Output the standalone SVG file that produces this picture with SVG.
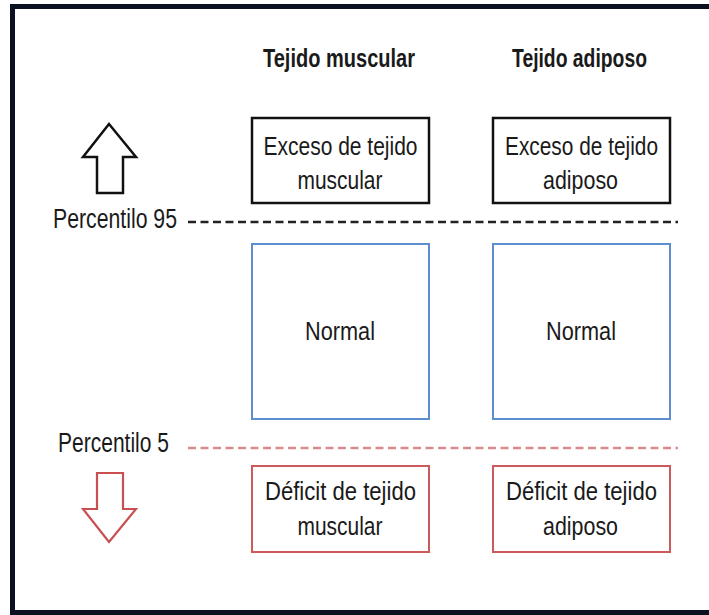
<svg xmlns="http://www.w3.org/2000/svg" width="709" height="615" viewBox="0 0 709 615">
<style>
text{font-family:"Liberation Sans",Arial,sans-serif;fill:#1a1a1a;}
.t{font-size:26px;font-weight:bold;}
.p{font-size:27px;}
.b{font-size:26px;text-anchor:middle;}
.kb{fill:#fff;stroke:#111;stroke-width:2.5;}
.nb{fill:#fff;stroke:#5b8fd0;stroke-width:2;}
.rb{fill:#fff;stroke:#cc5a5a;stroke-width:2;}
</style>
<rect x="0" y="0" width="709" height="615" fill="#fff"/>
<rect x="12.5" y="6.5" width="720" height="606" fill="#fff" stroke="#0b1120" stroke-width="5"/>
<g id="headers">
<text class="t" x="263" y="67" textLength="152" lengthAdjust="spacingAndGlyphs">Tejido muscular</text>
<text class="t" x="512" y="67" textLength="135" lengthAdjust="spacingAndGlyphs">Tejido adiposo</text>
</g>
<g id="connectors">
<line x1="188" y1="222" x2="678" y2="222" stroke="#222" stroke-width="2.5" stroke-dasharray="8,4.5"/>
<line x1="188" y1="448" x2="678" y2="448" stroke="#d98a8a" stroke-width="2.5" stroke-dasharray="8,4.5"/>
</g>
<g id="arrow-up">
<polygon points="109,124 136,157 123,157 123,193 97,193 97,157 83,157" fill="#fff" stroke="#111" stroke-width="2.5" stroke-linejoin="miter"/>
</g>
<g id="arrow-down">
<polygon points="97,473 123,473 123,509 136,509 109,542 83,509 97,509" fill="#fff" stroke="#c85050" stroke-width="2.2"/>
</g>
<g id="p95"><text class="p" x="53" y="228" textLength="124" lengthAdjust="spacingAndGlyphs">Percentilo 95</text></g>
<g id="p5"><text class="p" x="58" y="452" textLength="111" lengthAdjust="spacingAndGlyphs">Percentilo 5</text></g>
<g id="exceso-muscular">
<rect class="kb" x="252" y="118" width="177" height="85"/>
<text class="b" x="340.5" y="155" textLength="154" lengthAdjust="spacingAndGlyphs">Exceso de tejido</text>
<text class="b" x="340" y="189" textLength="85" lengthAdjust="spacingAndGlyphs">muscular</text>
</g>
<g id="exceso-adiposo">
<rect class="kb" x="493" y="118" width="177" height="85"/>
<text class="b" x="581.5" y="155" textLength="153" lengthAdjust="spacingAndGlyphs">Exceso de tejido</text>
<text class="b" x="580.5" y="189" textLength="75" lengthAdjust="spacingAndGlyphs">adiposo</text>
</g>
<g id="normal-muscular">
<rect class="nb" x="252" y="244" width="177" height="175"/>
<text class="b" x="340" y="340" textLength="70" lengthAdjust="spacingAndGlyphs">Normal</text>
</g>
<g id="normal-adiposo">
<rect class="nb" x="493" y="244" width="177" height="175"/>
<text class="b" x="581" y="340" textLength="70" lengthAdjust="spacingAndGlyphs">Normal</text>
</g>
<g id="deficit-muscular">
<rect class="rb" x="252" y="466" width="177" height="86"/>
<text class="b" x="340.5" y="500" textLength="151" lengthAdjust="spacingAndGlyphs">Déficit de tejido</text>
<text class="b" x="340" y="535" textLength="85" lengthAdjust="spacingAndGlyphs">muscular</text>
</g>
<g id="deficit-adiposo">
<rect class="rb" x="493" y="466" width="177" height="86"/>
<text class="b" x="581.5" y="500" textLength="151" lengthAdjust="spacingAndGlyphs">Déficit de tejido</text>
<text class="b" x="580.5" y="535" textLength="75" lengthAdjust="spacingAndGlyphs">adiposo</text>
</g>
</svg>
